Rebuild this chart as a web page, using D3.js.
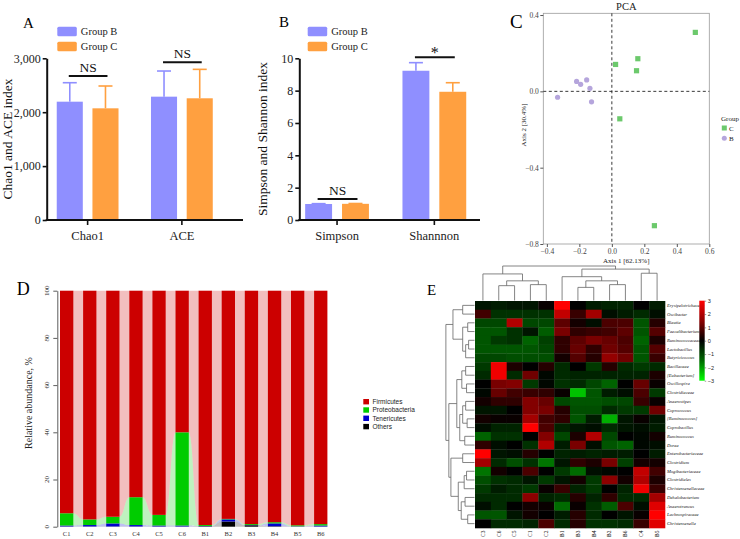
<!DOCTYPE html>
<html><head><meta charset="utf-8">
<script src="https://cdn.jsdelivr.net/npm/d3@7/dist/d3.min.js"></script>
<style>body{margin:0;background:#fff}svg{display:block}</style>
</head><body>
<svg id="c" width="740" height="539"></svg>
<script>
// ---------------- Panel A data ----------------
const catsA = ["Chao1", "ACE"];
const groupBValsA = [2195, 2288];
const groupBErrA = [352, 476];
const groupCValsA = [2072, 2258];
const groupCErrA = [414, 537];
const sigLabelsA = ["NS", "NS"];
const sigHeightsA = [2670, 2925];
const yTicksA = [0, 1000, 2000, 3000];

// ---------------- Panel B data ----------------
const catsB = ["Simpson", "Shannnon"];
const groupBValsB = [0.99, 9.23];
const groupBErrB = [0.02, 0.50];
const groupCValsB = [1.0, 7.93];
const groupCErrB = [0.02, 0.56];
const sigLabelsB = ["NS", "*"];
const sigHeightsB = [1.3, 10.06];
const yTicksB = [0, 2, 4, 6, 8, 10];

// ---------------- Panel C data (PCA) ----------------
const pcaC_x = [0.514, 0.023, 0.160, 0.152, 0.049, 0.262];
const pcaC_y = [0.309, 0.141, 0.171, 0.108, -0.144, -0.704];
const pcaB_x = [-0.334, -0.217, -0.192, -0.155, -0.135, -0.125];
const pcaB_y = [-0.031, 0.052, 0.037, 0.060, 0.016, -0.055];
const pcaXTicks = [-0.4, -0.2, 0, 0.2, 0.4, 0.6];
const pcaYTicks = [-0.8, -0.4, 0, 0.4];

// ---------------- Panel D data ----------------
const samples = ["C1","C2","C3","C4","C5","C6","B1","B2","B3","B4","B5","B6"];
const phyla = ["Firmicutes","Proteobacteria","Tenericutes","Others"];
const firmicutes     = [94.3, 96.9, 95.8, 87.5, 95.0, 60.0, 99.3, 96.7, 98.9, 98.1, 99.4, 98.9];
const proteobacteria = [5.2, 2.4, 2.8, 11.8, 4.5, 39.5, 0.4, 0.2, 0.4, 0.5, 0.4, 0.6];
const tenericutes    = [0.4, 0.6, 1.3, 0.6, 0.4, 0.4, 0.1, 0.9, 0.1, 1.2, 0.1, 0.4];
const others         = [0.1, 0.1, 0.1, 0.1, 0.1, 0.1, 0.2, 2.2, 0.6, 0.2, 0.1, 0.1];
const yTicksD = [0, 20, 40, 60, 80, 100];

// ---------------- Panel E data (heatmap) ----------------
const heatCols = ["C3","C6","C5","C1","C2","B1","B3","B4","B2","B6","C4","B5"];
const heatRows = ["Erysipelotrichaceae","Oscibacter","Blautia","Faecalibacterium","Ruminococcaceae",
  "Lactobacillus","Butyricicoccus","Bacillaceae","[Eubacterium]","Oscillospira","Clostridiaceae",
  "Anaerostipes","Coprococcus","[Ruminococcus]","Coprobacillus","Ruminococcus","Dorea",
  "Enterobacteriaceae","Clostridium","Mogibacteriaceae","Clostridiales","Christensenellaceae",
  "Dehalobacterium","Anaerotruncus","Lachnospiraceae","Christensenella"];
const heatValues = [
  [-0.3,-0.4,-0.3,-0.3,0.1,3.0, 0.0,-0.4,-0.5,-0.5,0.0,-0.4],
  [0.7,-0.7,-0.7,-0.7,-0.7,2.2, 0.6,1.8,-0.2,-0.4,-0.6,-0.2],
  [-1.0,-1.0,2.0,-1.0,-1.0,1.0, 0.2,-0.2,0.8,0.8,-1.2,0.4],
  [-1.2,-1.2,-0.7,-0.3,-1.3,1.3, 0.5,0.6,0.7,1.0,-1.2,0.9],
  [-1.2,-0.8,-0.7,-1.4,-0.9,0.5, 1.0,1.3,1.1,0.8,-1.4,0.3],
  [-1.2,-1.2,-1.2,-1.2,-1.0,0.5, 1.1,0.5,1.2,0.9,-1.2,0.9],
  [-1.0,-1.0,-1.1,-1.1,-1.1,0.2, 0.9,0.4,1.6,1.2,-1.2,0.6],
  [-0.8,2.8,0.3,0.0,0.4,-0.6, 0.0,-0.8,0.4,-0.6,-0.8,-0.6],
  [-0.6,2.8,-0.6,1.2,-0.1,-0.6, -0.5,-0.5,-0.5,-0.5,-0.5,0.3],
  [0.0,1.3,1.4,-0.8,-0.1,-0.7, -0.6,-1.0,-1.4,0.0,1.1,0.1],
  [-0.1,1.1,0.7,0.6,0.5,0.1, -2.4,-1.2,-0.4,-0.2,0.8,-0.8],
  [0.2,0.5,0.5,1.4,1.1,-1.0, -1.2,-1.2,-1.1,-1.0,0.6,0.1],
  [-0.3,-0.3,0.0,1.4,1.3,0.4, -1.1,-1.1,-0.6,-0.8,-0.8,1.2],
  [0.2,0.1,0.1,1.8,0.7,0.5, -1.2,-0.4,-2.2,-0.3,0.1,-0.3],
  [-0.2,-0.5,-0.5,3.0,0.8,-0.5, -0.3,-0.2,-0.6,-0.3,-0.2,-0.4],
  [-1.4,-0.7,-0.7,0.0,1.4,-1.0, 0.3,2.0,-1.0,0.0,-0.1,0.2],
  [0.5,-0.2,0.0,-0.7,2.0,-0.4, 1.3,-0.2,-1.2,-1.4,-0.1,-0.2],
  [3.0,-0.3,-0.2,0.4,0.0,-0.5, -0.4,-0.5,-0.4,-0.4,0.0,-0.4],
  [1.8,-0.6,-1.1,-0.7,-1.6,-0.3, 0.5,0.3,1.3,-0.9,0.2,0.2],
  [-1.6,0.2,0.0,0.8,0.0,-0.8, -1.5,-0.2,-0.1,0.0,2.2,0.7],
  [-1.1,-0.7,-0.6,-0.3,-0.8,-0.3, 0.2,-0.8,1.5,0.2,2.0,0.3],
  [-0.8,-0.4,-0.6,-0.8,0.1,0.6, -0.5,-0.8,0.0,-0.5,2.8,0.6],
  [-0.6,-0.6,-0.6,1.5,-0.5,-0.6, 0.4,-0.5,0.5,-0.6,-0.6,1.8],
  [-0.2,-0.6,0.0,0.2,0.1,-1.5, 0.1,-0.7,-1.3,0.8,-0.2,2.6],
  [-1.2,-1.2,-0.3,0.2,0.0,-0.4, 0.4,-0.6,0.0,-0.3,0.1,3.0],
  [0.0,-0.6,-0.6,-0.5,0.8,-0.6, 0.4,-0.7,-0.7,-0.6,0.6,2.6]
];
const heatTicks = [3, 2, 1, 0, -1, -2, -3];
// dendrogram merges: [left, right, height]; numbers refer to earlier merges
const colMerges = [
  ["C6","C5",4.3], ["C1","C2",4.6], [0,1,5.7], ["C3",2,7.7],
  ["B3","B4",3.8], ["B2","B6",4.6], [4,5,5.7], ["B1",6,6.9],
  ["C4","B5",7.9], [7,8,9.1], [3,9,10]
];
const rowMerges = [
  ["Erysipelotrichaceae","Oscibacter",4], ["Blautia","Faecalibacterium",2.3],
  ["Ruminococcaceae","Lactobacillus",2], [2,"Butyricicoccus",3], [1,3,4], [0,4,7.3],
  ["Bacillaceae","[Eubacterium]",3], ["Oscillospira","Clostridiaceae",2.7], [6,7,4.3],
  ["Anaerostipes","Coprococcus",3], ["[Ruminococcus]","Coprobacillus",2.5], [9,10,4],
  ["Ruminococcus","Dorea",3.3], [11,12,5], [8,13,6],
  ["Enterobacteriaceae","Clostridium",4], ["Mogibacteriaceae","Clostridiales",2.7],
  [16,"Christensenellaceae",3.5], ["Dehalobacterium","Anaerotruncus",3.2],
  ["Lachnospiraceae","Christensenella",2.3], [18,19,4.5], [17,20,5.5], [15,21,8],
  [14,22,8.7], [5,23,9.7]
];

// ---------------- drawing ----------------
const svg = d3.select("#c");
svg.append("rect").attr("width",740).attr("height",539).attr("fill","#fff");
const serif = "'Liberation Serif','Times New Roman',serif";
const sans = "'Liberation Sans',Arial,sans-serif";
const colB = "#8f8fff", colC = "#ffa040";

function panelLabel(t, x, y, size) {
  svg.append("text").attr("x",x).attr("y",y).attr("font-family",serif).attr("font-size",size).attr("fill","#000").text(t);
}

function alphaPanel(cfg) {
  const g = svg.append("g");
  const y = d3.scaleLinear().domain([0, cfg.yMax]).range([220, 58.3]);
  const x = d3.scaleBand().domain(cfg.cats).range(cfg.xRange);
  const xi = d3.scaleBand().domain(["Group B","Group C"]).range([0, x.bandwidth()]).paddingInner(0.27).paddingOuter(0.455);
  const groups = [
    {name:"Group B", vals:cfg.bVals, errs:cfg.bErr, color:colB},
    {name:"Group C", vals:cfg.cVals, errs:cfg.cErr, color:colC}];
  const w = xi.bandwidth();
  groups.forEach(gr => {
    cfg.cats.forEach((c,i) => {
      const x0 = x(c) + xi(gr.name), cx = x0 + w/2;
      const yt = y(gr.vals[i] + gr.errs[i]);
      g.append("line").attr("x1",cx).attr("x2",cx).attr("y1",y(gr.vals[i])).attr("y2",yt)
        .attr("stroke",gr.color).attr("stroke-width",1.6);
      g.append("line").attr("x1",cx-7).attr("x2",cx+7).attr("y1",yt).attr("y2",yt)
        .attr("stroke",gr.color).attr("stroke-width",1.6);
      g.append("rect").attr("x",x0).attr("y",y(gr.vals[i])).attr("width",w)
        .attr("height",y(0)-y(gr.vals[i])).attr("fill",gr.color);
    });
  });
  // significance
  cfg.cats.forEach((c,i) => {
    const xb = x(c) + xi("Group B") + w/2 - 1, xc = x(c) + xi("Group C") + w/2 + 2;
    const ys = y(cfg.sigY[i]);
    g.append("line").attr("x1",xb).attr("x2",xc).attr("y1",ys).attr("y2",ys).attr("stroke","#111").attr("stroke-width",2);
    const star = cfg.sig[i] === "*";
    g.append("text").attr("x",(xb+xc)/2).attr("y", star ? ys+1 : ys-4).attr("text-anchor","middle")
      .attr("font-family",serif).attr("font-size", star ? 16 : 13.5).attr("fill","#111").text(cfg.sig[i]);
  });
  // y axis
  const ya = g.append("g").attr("transform",`translate(${cfg.axX},0)`)
    .call(d3.axisLeft(y).tickValues(cfg.ticks).tickSize(4).tickSizeOuter(0).tickPadding(2).tickFormat(cfg.fmt));
  ya.select(".domain").attr("stroke","#111").attr("stroke-width",2);
  ya.selectAll(".tick line").attr("stroke","#111").attr("stroke-width",1.6);
  ya.selectAll(".tick text").attr("font-family",serif).attr("font-size",12).attr("fill","#222");
  // x axis
  const xa = g.append("g").attr("transform","translate(0,220)")
    .call(d3.axisBottom(x).tickSize(5).tickSizeOuter(0).tickPadding(6));
  xa.select(".domain").remove();
  xa.selectAll(".tick line").attr("stroke","#111").attr("stroke-width",1.6);
  xa.selectAll(".tick text").attr("font-family",serif).attr("font-size",12.5).attr("fill","#222");
  g.append("line").attr("x1",cfg.axX-1).attr("x2",cfg.xEnd).attr("y1",220).attr("y2",220).attr("stroke","#111").attr("stroke-width",2);
  // y title
  g.append("text").attr("transform",`translate(${cfg.titleX},139) rotate(-90)`).attr("text-anchor","middle")
    .attr("font-family",serif).attr("font-size",13.5).attr("fill","#111").text(cfg.title);
  // legend
  groups.forEach((gr,k) => {
    g.append("rect").attr("x",cfg.legX).attr("y",26.7 + k*15).attr("width",19.5).attr("height",9.5).attr("rx",1.5).attr("fill",gr.color);
    g.append("text").attr("x",cfg.legX+23.5).attr("y",35 + k*15).attr("font-family",serif).attr("font-size",10.5).attr("fill","#222").text(gr.name);
  });
}

alphaPanel({cats:catsA, bVals:groupBValsA, bErr:groupBErrA, cVals:groupCValsA, cErr:groupCErrA,
  sig:sigLabelsA, sigY:sigHeightsA, yMax:3000, ticks:yTicksA, fmt:d3.format(","),
  xRange:[40.5,229], axX:46.7, xEnd:243, titleX:12, title:"Chao1 and ACE index", legX:57.3});
alphaPanel({cats:catsB, bVals:groupBValsB, bErr:groupBErrB, cVals:groupCValsB, cErr:groupCErrB,
  sig:sigLabelsB, sigY:sigHeightsB, yMax:10, ticks:yTicksB, fmt:d3.format("d"),
  xRange:[288.4,483], axX:299.3, xEnd:480, titleX:266.5, title:"Simpson and Shannon index", legX:307.7});
panelLabel("A", 23, 28.3, 15);
panelLabel("B", 279, 26.7, 15);

// ---------------- Panel C ----------------
(function(){
  const g = svg.append("g");
  const x = d3.scaleLinear().domain([-0.422, 0.6]).range([543.3, 709.3]);
  const y = d3.scaleLinear().domain([-0.8, 0.409]).range([244, 13.3]);
  g.append("rect").attr("x",543.3).attr("y",13.3).attr("width",166).attr("height",230.7)
    .attr("fill","none").attr("stroke","#9a9a9a").attr("stroke-width",0.8);
  const xa = g.append("g").attr("transform","translate(0,244)").call(d3.axisBottom(x).tickValues(pcaXTicks).tickSize(3).tickSizeOuter(0).tickPadding(1.5).tickFormat(d3.format(".1f")));
  xa.select(".domain").remove();
  xa.selectAll(".tick line").attr("stroke","#555");
  xa.selectAll(".tick text").attr("font-family",serif).attr("font-size",7.5).attr("fill","#444");
  const ya = g.append("g").attr("transform","translate(543.3,0)").call(d3.axisLeft(y).tickValues(pcaYTicks).tickSize(3).tickSizeOuter(0).tickPadding(1.5).tickFormat(d3.format(".1f")));
  ya.select(".domain").remove();
  ya.selectAll(".tick line").attr("stroke","#555");
  ya.selectAll(".tick text").attr("font-family",serif).attr("font-size",7.5).attr("fill","#444");
  g.append("line").attr("x1",x(0)).attr("x2",x(0)).attr("y1",13.3).attr("y2",244).attr("stroke","#222").attr("stroke-dasharray","3,2.5").attr("stroke-width",0.9);
  g.append("line").attr("x1",543.3).attr("x2",709.3).attr("y1",y(0)).attr("y2",y(0)).attr("stroke","#222").attr("stroke-dasharray","3,2.5").attr("stroke-width",0.9);
  pcaB_x.forEach((v,i) => g.append("circle").attr("cx",x(v)).attr("cy",y(pcaB_y[i])).attr("r",2.6).attr("fill","#b5a5dc"));
  pcaC_x.forEach((v,i) => g.append("rect").attr("x",x(v)-2.6).attr("y",y(pcaC_y[i])-2.6).attr("width",5.2).attr("height",5.2).attr("fill","#6cc96c"));
  g.append("text").attr("x",626.3).attr("y",9.5).attr("text-anchor","middle").attr("font-family",serif).attr("font-size",10.5).attr("fill","#222").text("PCA");
  g.append("text").attr("x",626.3).attr("y",263).attr("text-anchor","middle").attr("font-family",serif).attr("font-size",7).attr("fill","#222").text("Axis 1 [62.13%]");
  g.append("text").attr("transform","translate(526,125) rotate(-90)").attr("text-anchor","middle").attr("font-family",serif).attr("font-size",7).attr("fill","#222").text("Axis 2 [30.4%]");
  g.append("text").attr("x",721).attr("y",120.5).attr("font-family",serif).attr("font-size",7).attr("fill","#222").text("Group");
  g.append("rect").attr("x",721.8).attr("y",125.5).attr("width",5).attr("height",5).attr("fill","#6cc96c");
  g.append("text").attr("x",729).attr("y",131).attr("font-family",serif).attr("font-size",7).attr("fill","#222").text("C");
  g.append("circle").attr("cx",724.3).attr("cy",138.3).attr("r",2.5).attr("fill","#b5a5dc");
  g.append("text").attr("x",729).attr("y",141).attr("font-family",serif).attr("font-size",7).attr("fill","#222").text("B");
  panelLabel("C", 510, 28.3, 19);
})();

// ---------------- Panel D ----------------
(function(){
  const g = svg.append("g");
  const phylumColors = {Firmicutes:"#cc0000", Proteobacteria:"#00cc00", Tenericutes:"#0000cc", Others:"#000000"};
  const series = {Firmicutes:firmicutes, Proteobacteria:proteobacteria, Tenericutes:tenericutes, Others:others};
  const rows = samples.map((s,i) => { const r = {sample:s}; phyla.forEach(p => r[p] = series[p][i]); return r; });
  const stack = d3.stack().keys(["Others","Tenericutes","Proteobacteria","Firmicutes"])(rows);
  const x = d3.scaleBand().domain(samples).range([57.3, 330.1]).paddingInner(0.424).paddingOuter(0.117);
  const y = d3.scaleLinear().domain([0,100]).range([526.7, 290.7]);
  const bw = x.bandwidth();
  const area = d3.area().x(d => d.x).y0(d => y(d.y0)).y1(d => y(d.y1)).curve(d3.curveBumpX);
  stack.forEach(layer => {
    const col = phylumColors[layer.key];
    for (let i = 0; i < samples.length - 1; i++) {
      const a = layer[i], b = layer[i+1];
      g.append("path").attr("d", area([
        {x: x(samples[i]) + bw - 0.3, y0:a[0], y1:a[1]},
        {x: x(samples[i+1]) + 0.3, y0:b[0], y1:b[1]}]))
        .attr("fill", col).attr("fill-opacity",0.25);
    }
    layer.forEach((d,i) => {
      g.append("rect").attr("x",x(samples[i])).attr("width",bw).attr("y",y(d[1])).attr("height",Math.max(0,y(d[0])-y(d[1]))).attr("fill",col);
    });
  });
  const ya = g.append("g").attr("transform","translate(57.3,0)").call(d3.axisLeft(y).tickValues(yTicksD).tickSize(4).tickSizeOuter(0));
  ya.select(".domain").attr("stroke","#333").attr("stroke-width",0.8);
  ya.selectAll(".tick line").attr("stroke","#333").attr("stroke-width",0.8);
  ya.selectAll(".tick text").remove();
  yTicksD.forEach(t => g.append("text").attr("transform",`translate(49.3,${y(t)}) rotate(-90)`).attr("text-anchor","middle")
    .attr("font-family",serif).attr("font-size",7).attr("fill","#333").text(t));
  samples.forEach(s => g.append("text").attr("x",x(s)+bw/2).attr("y",535.5).attr("text-anchor","middle")
    .attr("font-family",serif).attr("font-size",6.5).attr("fill","#333").text(s));
  g.append("text").attr("transform","translate(31.8,403) rotate(-90)").attr("text-anchor","middle")
    .attr("font-family",serif).attr("font-size",10).attr("fill","#222").text("Relative abundance, %");
  phyla.forEach((p,k) => {
    g.append("rect").attr("x",363.3).attr("y",399 + k*8.3).attr("width",5.7).attr("height",5.4).attr("fill",phylumColors[p]);
    g.append("text").attr("x",372.5).attr("y",404 + k*8.3).attr("font-family",sans).attr("font-size",6.5).attr("fill","#222").text(p);
  });
  panelLabel("D", 16.7, 295, 18);
})();

// ---------------- Panel E ----------------
(function(){
  const g = svg.append("g");
  const x = d3.scaleBand().domain(heatCols).range([475, 665]);
  const y = d3.scaleBand().domain(heatRows).range([301, 528]);
  const color = d3.scaleLinear().domain([-3,-1.5,0,1.5,3]).range(["#00ff00","#006a00","#000000","#8c0000","#ff0000"]).clamp(true);
  heatValues.forEach((row,r) => row.forEach((v,c) => {
    g.append("rect").attr("x",x(heatCols[c])).attr("y",y(heatRows[r])).attr("width",x.bandwidth()+0.3).attr("height",y.bandwidth()+0.3).attr("fill",color(v));
  }));
  heatRows.forEach(rn => g.append("text").attr("x",667).attr("y",y(rn)+y.bandwidth()/2).attr("dominant-baseline","central")
    .attr("font-family",serif).attr("font-style","italic").attr("font-size",4.6).attr("fill","#111").text(rn));
  heatCols.forEach(cn => g.append("text").attr("transform",`translate(${x(cn)+x.bandwidth()/2+1.8},530.5) rotate(-90)`).attr("text-anchor","end")
    .attr("font-family",serif).attr("font-size",5.5).attr("fill","#111").text(cn));
  function dendro(merges, leafPos, hs, vertical) {
    const nodes = [];
    const get = ref => typeof ref === "number" ? nodes[ref] : {pos:leafPos(ref), h:0};
    const line = d3.line().x(p => vertical ? p[0] : hs(p[1])).y(p => vertical ? hs(p[1]) : p[0]);
    merges.forEach(([a,b,h]) => {
      const A = get(a), B = get(b);
      g.append("path").attr("d", line([[A.pos,A.h],[A.pos,h],[B.pos,h],[B.pos,B.h]]))
        .attr("fill","none").attr("stroke","#666").attr("stroke-width",0.8);
      nodes.push({pos:(A.pos+B.pos)/2, h});
    });
  }
  dendro(colMerges, n => x(n)+x.bandwidth()/2, d3.scaleLinear().domain([0,10]).range([300.5,266]), true);
  dendro(rowMerges, n => y(n)+y.bandwidth()/2, d3.scaleLinear().domain([0,10]).range([474.5,445]), false);
  // colour key
  const ky = d3.scaleLinear().domain([-3,3]).range([380.7,300.7]);
  const grad = svg.append("defs").append("linearGradient").attr("id","kg").attr("x1",0).attr("y1",1).attr("x2",0).attr("y2",0);
  [-3,-1.5,0,1.5,3].forEach(v => grad.append("stop").attr("offset",(v+3)/6).attr("stop-color",color(v)));
  g.append("rect").attr("x",699.3).attr("y",ky(3)).attr("width",5.4).attr("height",ky(-3)-ky(3)).attr("fill","url(#kg)");
  const ka = g.append("g").attr("transform","translate(704.7,0)").call(d3.axisRight(ky).tickValues(heatTicks).tickSize(1.5).tickSizeOuter(0).tickPadding(1.5).tickFormat(d3.format("d")));
  ka.select(".domain").remove();
  ka.selectAll(".tick line").attr("stroke","#333").attr("stroke-width",0.5);
  ka.selectAll(".tick text").attr("font-family",sans).attr("font-size",5.5).attr("fill","#222");
  panelLabel("E", 427, 295, 15);
})();
</script></body></html>
